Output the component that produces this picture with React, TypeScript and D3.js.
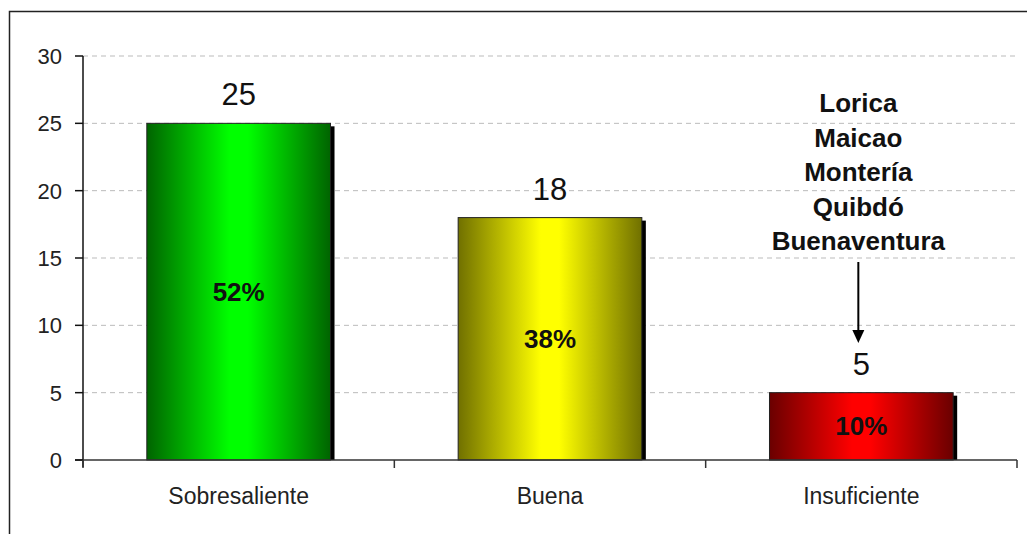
import React from "react";
import * as d3 from "d3";

const categories = ["Sobresaliente", "Buena", "Insuficiente"];
const counts = [25, 18, 5];
const percents = ["52%", "38%", "10%"];
const yTicks = [0, 5, 10, 15, 20, 25, 30];
const cities = ["Lorica", "Maicao", "Montería", "Quibdó", "Buenaventura"];
const gradients = [
  { dark: "#006400", light: "#00ff00" },
  { dark: "#707000", light: "#ffff00" },
  { dark: "#6a0000", light: "#ff0000" },
];

const W = 1027;
const H = 534;
const left = 83;
const right = 1017;
const top = 56;
const bottom = 460;
const font = "'Liberation Sans', Arial, sans-serif";

const App: React.FC = () => {
  const x = d3.scaleBand<string>().domain(categories).range([left, right]).paddingInner(0.41).paddingOuter(0.205);
  const y = d3.scaleLinear().domain([0, 30]).range([bottom, top]);
  const step = (right - left) / categories.length;
  const last = categories.length - 1;
  const cx = x(categories[last])! + x.bandwidth() / 2;

  return (
    <svg width={W} height={H} style={{ position: "absolute", left: 0, top: 0 }}>
      <defs>
        {gradients.map((g, i) => (
          <linearGradient key={i} id={`g${i}`} x1="0" x2="1" y1="0" y2="0">
            <stop offset="0" stopColor={g.dark} />
            <stop offset="0.45" stopColor={g.light} />
            <stop offset="0.55" stopColor={g.light} />
            <stop offset="1" stopColor={g.dark} />
          </linearGradient>
        ))}
      </defs>
      <rect x={0} y={0} width={W} height={H} fill="#fff" />
      <path d={`M9.5,${H} V11.5 H${W}`} fill="none" stroke="#222" strokeWidth={1.5} />

      {yTicks.slice(1).map((t) => (
        <line key={t} x1={left} x2={1016} y1={y(t)} y2={y(t)} stroke="#bbb" strokeDasharray="5,4" />
      ))}

      {categories.map((c, i) => {
        const bx = x(c)!;
        const by = y(counts[i]);
        const bw = x.bandwidth();
        const bh = bottom - by;
        return (
          <g key={c}>
            <rect x={bx + 4} y={by + 3} width={bw} height={bh - 3} fill="#000" />
            <rect x={bx} y={by} width={bw} height={bh} fill={`url(#g${i})`} stroke="#222" strokeWidth={1} />
            <text x={bx + bw / 2} y={by - 18} textAnchor="middle" fontFamily={font} fontSize={31} fill="#111">
              {counts[i]}
            </text>
            <text x={bx + bw / 2} y={by + bh / 2 + 9} textAnchor="middle" fontFamily={font} fontSize={26} fontWeight="bold" fill="#111">
              {percents[i]}
            </text>
            <text x={bx + bw / 2} y={504} textAnchor="middle" fontFamily={font} fontSize={23} fill="#222">
              {c}
            </text>
          </g>
        );
      })}

      <line x1={left} x2={left} y1={top} y2={bottom + 7} stroke="#111" strokeWidth={1.5} />
      <line x1={left - 8} x2={right} y1={bottom} y2={bottom} stroke="#333" strokeWidth={1.5} />
      {yTicks.map((t) => (
        <g key={t}>
          <line x1={left - 8} x2={left} y1={y(t)} y2={y(t)} stroke="#111" strokeWidth={1.5} />
          <text x={62} y={y(t) + 8} textAnchor="end" fontFamily={font} fontSize={22} fill="#222">
            {t}
          </text>
        </g>
      ))}
      {d3.range(categories.length + 1).map((k) => (
        <line key={k} x1={left + k * step} x2={left + k * step} y1={bottom} y2={bottom + 8} stroke="#333" strokeWidth={1.5} />
      ))}

      {cities.map((c, i) => (
        <text key={c} x={cx - 3} y={112 + i * 34.5} textAnchor="middle" fontFamily={font} fontSize={26} fontWeight="bold" fill="#111">
          {c}
        </text>
      ))}
      <line x1={cx - 3} x2={cx - 3} y1={262} y2={332} stroke="#000" strokeWidth={2} />
      <path d={`M${cx - 9},330 L${cx + 3},330 L${cx - 3},343 Z`} fill="#000" />
    </svg>
  );
};

export default App;
